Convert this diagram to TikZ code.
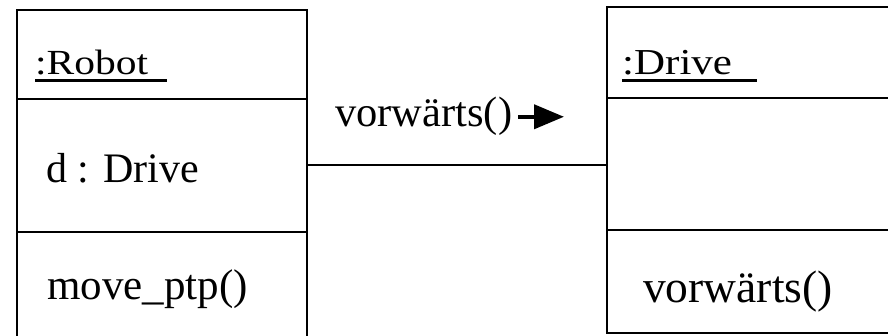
\documentclass[tikz,border=0pt]{standalone}
\usepackage{fontspec}
\usepackage{graphicx}
\setmainfont{Liberation Serif}
\usetikzlibrary{positioning,arrows.meta}

% object name with a heavy underline of given length
\newcommand{\ulname}[2]{\makebox[0pt][l]{\rule[-7.5pt]{#2}{3pt}}\scalebox{1}[0.85]{#1}}

\begin{document}
\begin{tikzpicture}[x=1pt,y=-1pt,
  part/.style={draw,line width=2pt,outer sep=0pt,inner sep=0pt,anchor=north west},
  txt/.style={anchor=base west,inner sep=0pt,font=\fontsize{43}{50}\selectfont},
  objname/.style={txt,font=\fontsize{41.5}{50}\selectfont}]
\clip (0,0) rectangle (888,336);
\fill[white] (0,0) rectangle (888,336);

% the robot object
\node[part,minimum width=290pt,minimum height=89pt] (robothead) at (17,10) {};
\node[part,minimum width=290pt,minimum height=133pt,below=0pt of robothead] (robotattr) {};
\node[part,minimum width=290pt,minimum height=120pt,below=0pt of robotattr] (robotops) {};
\node[objname] (robotname) at (35,75) {\ulname{:Robot}{132pt}};
\node[txt,font=\fontsize{42}{50}\selectfont] (robotfield) at (46,183) {d : Drive};
\node[txt] (robotop) at (47,300) {move\_ptp()};

% the drive object
\node[part,minimum width=300pt,minimum height=91pt] (drivehead) at (607,7) {};
\node[part,minimum width=300pt,minimum height=132pt,below=0pt of drivehead] (driveattr) {};
\node[part,minimum width=300pt,minimum height=103pt,below=0pt of driveattr] (driveops) {};
\node[objname,font=\fontsize{43}{50}\selectfont] (drivename) at (622,75) {\ulname{:Drive}{135pt}};
\node[txt,font=\fontsize{45.5}{52}\selectfont] (driveop) at (643,302) {vorwärts()};

% link and message
\draw[line width=2pt] (robotattr.east) -- (robotattr.east -| driveattr.west);
\node[txt,font=\fontsize{42.5}{50}\selectfont] (msg) at (335,127) {vorwärts()};
\coordinate (msgtip) at (564,116);
\draw[line width=4pt,-{Triangle[length=30pt,width=24pt]}] ([xshift=6pt]msg.east) -- (msg.east -| msgtip);
\end{tikzpicture}
\end{document}
